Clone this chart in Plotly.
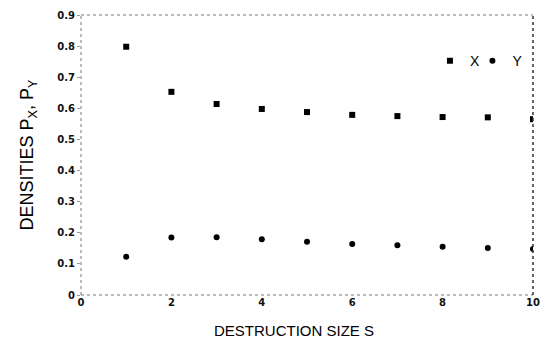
import plotly.graph_objects as go

# Destruction size and the resulting densities of X and Y
sizes = [1, 2, 3, 4, 5, 6, 7, 8, 9, 10]
density_x = [0.798, 0.653, 0.614, 0.598, 0.588, 0.579, 0.575, 0.572, 0.571, 0.565]
density_y = [0.123, 0.185, 0.186, 0.179, 0.171, 0.164, 0.160, 0.155, 0.151, 0.148]

x_ticks = [0, 2, 4, 6, 8, 10]
y_ticks = [0, 0.1, 0.2, 0.3, 0.4, 0.5, 0.6, 0.7, 0.8, 0.9]
y_tick_text = ["0", "0.1", "0.2", "0.3", "0.4", "0.5", "0.6", "0.7", "0.8", "0.9"]

fig = go.Figure()
fig.add_trace(go.Scatter(
    x=sizes, y=density_x, mode="markers", name="X", legend="legend",
    marker=dict(symbol="square", size=6, color="black"),
))
fig.add_trace(go.Scatter(
    x=sizes, y=density_y, mode="markers", name="Y", legend="legend2",
    marker=dict(symbol="circle", size=6, color="black"),
))

tick_font = dict(family="DejaVu Sans", size=10, color="#111", weight="bold")
axis_line = dict(color="#777", width=1, dash="dot")
legend_font = dict(family="Liberation Sans", size=14, color="black")

fig.update_layout(
    width=542, height=346,
    margin=dict(l=81, r=9, t=15, b=51, autoexpand=False),
    paper_bgcolor="white", plot_bgcolor="white",
    showlegend=True,
    legend=dict(x=0.772, y=0.835, xanchor="left", yanchor="middle",
                font=legend_font, itemwidth=30, bgcolor="rgba(0,0,0,0)"),
    legend2=dict(x=0.866, y=0.835, xanchor="left", yanchor="middle",
                 font=legend_font, itemwidth=30, bgcolor="rgba(0,0,0,0)"),
    xaxis=dict(
        range=[0, 10], tickvals=x_ticks, showgrid=False, zeroline=False,
        showline=False, ticks="", tickfont=tick_font,
    ),
    yaxis=dict(
        range=[0, 0.9], tickvals=y_ticks, ticktext=y_tick_text,
        showgrid=False, zeroline=False, showline=False,
        ticks="outside", ticklen=3, tickcolor="#999", tickfont=tick_font,
        title=dict(text="DENSITIES P<sub>X</sub>, P<sub>Y</sub>", standoff=18,
                   font=dict(family="Liberation Sans", size=18, color="black")),
    ),
    annotations=[dict(
        text="DESTRUCTION SIZE S", xref="paper", yref="paper",
        x=0.471, y=-0.125, xanchor="center", yanchor="middle", showarrow=False,
        font=dict(family="Liberation Sans", size=15, color="black"),
    )],
)

# Frame: dotted left, bottom and top edges, darker right edge
fig.add_shape(type="line", xref="paper", yref="paper", x0=0, x1=0, y0=0, y1=1,
              line=axis_line)
fig.add_shape(type="line", xref="paper", yref="paper", x0=0, x1=1, y0=0, y1=0,
              line=axis_line)
fig.add_shape(type="line", xref="paper", yref="paper", x0=0, x1=1, y0=1, y1=1,
              line=axis_line)
fig.add_shape(type="line", xref="paper", yref="paper", x0=1, x1=1, y0=0, y1=1,
              line=dict(color="#333", width=1.5, dash="dot"))

fig.write_html("out.html")
